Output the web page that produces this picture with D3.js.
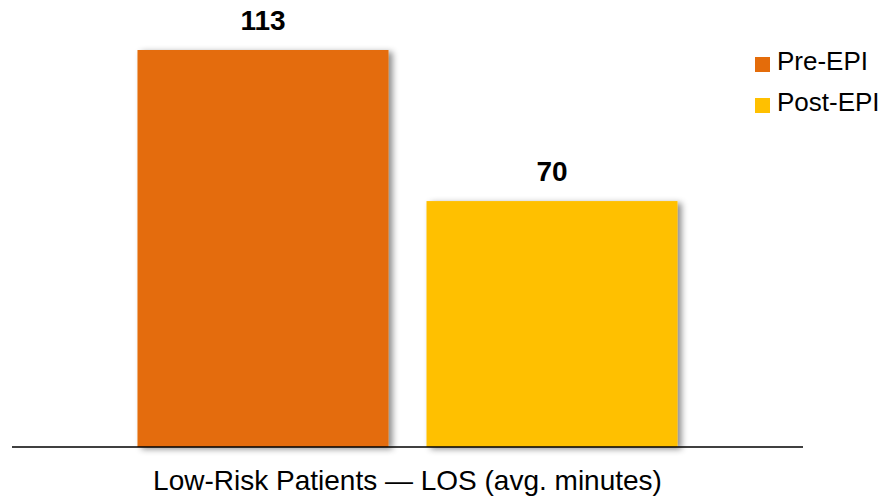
<!DOCTYPE html>
<html>
<head>
<meta charset="utf-8">
<script src="https://cdn.jsdelivr.net/npm/d3@7"></script>
<style>
  html, body { margin: 0; padding: 0; background: #fff; }
  svg { display: block; }
</style>
</head>
<body>
<svg id="chart" width="890" height="497"></svg>
<script>
// Average length of stay for low-risk patients, before and after EPI
const categories = ["Low-Risk Patients — LOS (avg. minutes)"];
const seriesNames = ["Pre-EPI", "Post-EPI"];
const seriesColors = ["#E46C0A", "#FFC000"];
const preEpi = [113];
const postEpi = [70];

const svg = d3.select("#chart");
const baseY = 447, topY = 50;
const left = 12, right = 803;

// drop shadow used on the bars
const defs = svg.append("defs");
const f = defs.append("filter").attr("id", "shadow")
  .attr("x", "-10%").attr("y", "-10%").attr("width", "130%").attr("height", "130%");
f.append("feDropShadow").attr("dx", 4).attr("dy", 2).attr("stdDeviation", 3)
  .attr("flood-color", "#000").attr("flood-opacity", 0.45);

const x0 = d3.scaleBand().domain(categories).range([left, right])
  .paddingInner(0).paddingOuter(0.2324);
const x1 = d3.scaleBand().domain(seriesNames).range([0, x0.bandwidth()])
  .paddingInner(0.1315).paddingOuter(0);
const y = d3.scaleLinear().domain([0, d3.max(preEpi.concat(postEpi))]).range([baseY, topY]);

const rows = categories.map((c, i) => ({
  cat: c,
  vals: [
    { s: seriesNames[0], v: preEpi[i], c: seriesColors[0] },
    { s: seriesNames[1], v: postEpi[i], c: seriesColors[1] }
  ]
}));

const g = svg.selectAll("g.cat").data(rows).enter().append("g")
  .attr("class", "cat")
  .attr("transform", d => `translate(${x0(d.cat)},0)`);

g.selectAll("rect").data(d => d.vals).enter().append("rect")
  .attr("x", d => x1(d.s))
  .attr("y", d => y(d.v))
  .attr("width", x1.bandwidth())
  .attr("height", d => y(0) - y(d.v))
  .attr("fill", d => d.c)
  .attr("filter", "url(#shadow)");

g.selectAll("text.val").data(d => d.vals).enter().append("text")
  .attr("class", "val")
  .attr("x", d => x1(d.s) + x1.bandwidth() / 2)
  .attr("y", d => y(d.v) - 20)
  .attr("text-anchor", "middle")
  .attr("font-family", "'Liberation Sans', Arial, sans-serif")
  .attr("font-weight", "bold")
  .attr("font-size", 28)
  .attr("fill", "#000")
  .text(d => d.v);

// baseline axis
const xAxis = d3.axisBottom(x0).tickSize(0).tickPadding(23);
const ax = svg.append("g").attr("transform", `translate(0,${baseY})`).call(xAxis);
ax.select(".domain").attr("stroke", "#000").attr("stroke-width", 1.6)
  .attr("d", `M${left},0H${right}`);
ax.selectAll(".tick text")
  .attr("font-family", "'Liberation Sans', Arial, sans-serif")
  .attr("font-size", 28)
  .attr("fill", "#000");

// legend
const legend = svg.append("g").attr("transform", "translate(755,57)");
const li = legend.selectAll("g").data(seriesNames).enter().append("g")
  .attr("transform", (d, i) => `translate(0,${i * 41})`);
li.append("rect").attr("width", 15).attr("height", 15)
  .attr("fill", (d, i) => seriesColors[i]);
li.append("text").attr("x", 22).attr("y", 13)
  .attr("font-family", "'Liberation Sans', Arial, sans-serif")
  .attr("font-size", 26)
  .attr("fill", "#000")
  .text(d => d);
</script>
</body>
</html>
